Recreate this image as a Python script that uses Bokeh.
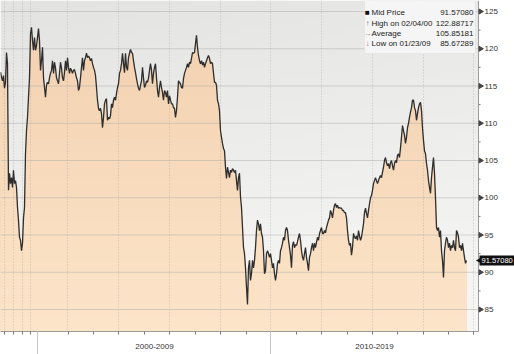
import numpy as np
from bokeh.plotting import figure
from bokeh.models import Range1d, Label, BoxAnnotation
from bokeh.core.properties import value
from bokeh.embed import file_html
from bokeh.resources import INLINE

# ---------------- data ----------------
price = [
    116.85, 116.2, 115.7, 116.4, 114.7, 115.5, 119.5, 118.0, 101.0, 103.3,
    101.9, 102.7, 101.4, 103.7, 101.9, 102.3, 101.4, 98.7, 97.0, 94.7,
    94.3, 92.9, 93.9, 97.3, 98.7, 105.9, 109.0, 110.8, 113.5, 116.1,
    122.0, 122.89, 121.1, 119.8, 121.5, 119.8, 120.4, 121.5, 122.7, 121.1,
    117.1, 118.4, 120.2, 116.1, 114.8, 113.5, 115.1, 115.5, 115.3, 116.1,
    116.7, 117.1, 118.4, 116.7, 118.2, 117.4, 116.1, 115.7, 115.3, 116.7,
    118.2, 117.4, 116.1, 115.7, 116.8, 118.4, 117.1, 118.8, 117.5, 116.7,
    117.4, 117.1, 116.7, 117.1, 117.2, 116.7, 116.1, 115.7, 114.4, 114.8,
    116.1, 117.5, 118.8, 117.1, 118.4, 118.8, 119.4, 118.8, 119.0, 118.8,
    118.4, 118.7, 118.0, 117.5, 117.1, 116.4, 114.8, 113.1, 112.0, 111.7,
    112.0, 111.3, 109.4, 110.8, 112.6, 113.1, 113.3, 110.4, 110.8, 110.6,
    111.0, 112.6, 112.1, 113.1, 113.5, 113.1, 114.0, 114.8, 115.3, 116.7,
    117.1, 118.0, 119.4, 118.0, 116.8, 119.4, 117.5, 117.1, 118.8, 119.4,
    119.9, 119.5, 119.4, 118.4, 117.5, 116.8, 116.0, 115.3, 114.7, 114.4,
    115.1, 115.7, 117.5, 116.1, 114.8, 115.1, 115.7, 115.5, 116.1, 117.1,
    118.0, 117.1, 115.3, 116.7, 117.5, 118.0, 116.1, 114.4, 113.5, 114.8,
    115.7, 114.8, 114.1, 113.1, 114.4, 114.1, 113.5, 114.4, 112.6, 113.7,
    113.1, 112.6, 112.6, 112.1, 112.0, 110.8, 111.7, 113.5, 115.7, 115.5,
    115.3, 114.8, 114.7, 116.0, 116.7, 117.1, 117.5, 118.0, 117.5, 118.2,
    118.0, 118.7, 119.5, 119.4, 119.5, 120.7, 121.8, 120.2, 119.1, 118.4,
    118.0, 118.4, 117.8, 118.2, 117.5, 118.0, 118.4, 118.8, 119.1, 118.7,
    118.0, 118.2, 118.0, 116.7, 115.5, 115.5, 115.1, 113.1, 112.6, 111.7,
    109.0, 108.1, 107.3, 106.6, 106.3, 104.1, 102.6, 104.1, 103.4, 102.7,
    103.7, 103.4, 103.9, 103.7, 103.4, 103.7, 102.3, 101.0, 102.7, 103.3,
    100.1, 98.7, 96.0, 93.3, 92.5, 90.6, 88.0, 85.67, 90.6, 91.6,
    88.9, 89.8, 91.6, 90.6, 91.6, 93.3, 95.6, 97.0, 96.5, 95.6,
    96.5, 95.2, 94.7, 92.9, 89.8, 90.2, 92.5, 92.9, 92.5, 92.0,
    92.5, 91.6, 90.6, 91.2, 89.8, 88.9, 89.8, 91.2, 91.6, 91.2,
    92.9, 93.3, 93.9, 94.7, 94.3, 95.6, 96.0, 95.6, 94.3, 93.3,
    92.3, 90.6, 93.6, 94.1, 93.3, 93.7, 93.6, 94.1, 94.7, 95.2,
    94.3, 92.9, 92.0, 91.6, 92.5, 93.3, 92.0, 91.2, 90.2, 92.0,
    92.5, 93.3, 93.9, 92.9, 93.9, 93.3, 94.0, 94.7, 94.3, 95.2,
    95.6, 96.0, 95.2, 95.2, 95.6, 95.3, 96.0, 96.5, 97.0, 97.3,
    98.3, 97.9, 97.3, 98.3, 99.0, 99.2, 98.7, 99.0, 98.6, 98.7,
    98.6, 98.6, 98.3, 98.3, 98.0, 98.0, 97.3, 95.6, 94.3, 93.6,
    93.9, 92.3, 93.3, 95.2, 94.7, 94.5, 94.9, 94.3, 95.6, 94.9,
    94.3, 94.7, 95.6, 96.5, 98.0, 98.6, 97.9, 97.3, 98.3, 99.2,
    100.0, 100.3, 101.0, 101.9, 102.3, 102.7, 102.3, 101.9, 102.3, 102.7,
    103.0, 102.7, 103.4, 104.1, 105.0, 105.4, 104.7, 104.3, 104.6, 103.9,
    104.7, 105.0, 104.3, 103.7, 104.6, 105.0, 104.7, 105.7, 105.9, 105.4,
    106.7, 108.1, 109.7, 109.0, 108.4, 107.3, 108.1, 109.4, 110.0, 110.8,
    111.5, 112.1, 113.1, 113.1, 112.1, 111.7, 110.4, 111.3, 112.1, 112.6,
    112.8, 111.7, 109.4, 107.7, 106.3, 105.9, 104.6, 103.7, 102.3, 101.4,
    100.6, 102.7, 104.1, 105.4, 103.3, 100.0, 96.0, 95.6, 96.0, 94.7,
    95.6, 92.9, 91.6, 89.3, 92.9, 93.9, 94.7, 94.3, 93.3, 93.9,
    92.9, 93.6, 93.3, 94.3, 93.3, 92.9, 95.6, 95.3, 94.7, 93.3,
    93.6, 92.9, 93.9, 92.9, 92.0, 91.2, 91.5708,
]
obs = list(range(len(price)))          # observation index (Bloomberg-style axis)

period_labels = ["2000-2009", "2010-2019"]
period_starts = [37, 270]               # observation index where each period starts
period_label_at = [154, 374]            # centre of the visible part of each period
year_ticks = [4, 13, 22, 30, 68, 93, 118, 144, 169, 195, 220, 246,
              296, 321, 347, 372, 397, 423, 448, 473]
grid_obs = [4, 13, 22, 30, 67, 118, 169, 220, 270, 321, 372, 423, 473]
y_ticks = [85, 90, 95, 100, 105, 110, 115, 120, 125]
y_minor = [87.5, 92.5, 97.5, 102.5, 107.5, 112.5, 117.5, 122.5]

legend_marks = ["\u25A0", "\u2191", "\u2192", "\u2193"]
legend_names = ["Mid Price", "High on 02/04/00", "Average", "Low on 01/23/09"]
legend_values = ["91.57080", "122.88717", "105.85181", "85.67289"]
last_price = 91.57080
last_label = "91.57080"

# ---------------- layout / style ----------------
W, H = 514, 354
PW, PH = 478, 331                      # plotting area (pixels)
Y_TOP, Y_BOT = 126.48, 82.05           # value range of the plotting area
S = (Y_TOP - Y_BOT) / PH               # value units per pixel
FONT = "Liberation Sans"
TXT = "#333333"


def ypx(py):
    return Y_TOP - py * S


p = figure(width=W, height=H,
           x_range=Range1d(0, W), y_range=Range1d(ypx(H), Y_TOP),
           output_backend="svg", toolbar_location=None,
           x_axis_type=None, y_axis_type=None, min_border=0)
p.outline_line_color = None
p.background_fill_color = "white"
p.border_fill_color = "white"
p.xgrid.visible = False
p.ygrid.visible = False

# background gradient of the plotting area
ny, nx = 60, 60
yy = np.linspace(0, 1, ny)[:, None]   # 0 = bottom, 1 = top
xx = np.linspace(0, 1, nx)[None, :]
g = 247 - 15 * yy - 5 * (1 - xx) * yy
img = np.empty((ny, nx), dtype=np.uint32)
view = img.view(dtype=np.uint8).reshape((ny, nx, 4))
view[:, :, 0] = g.astype(np.uint8)
view[:, :, 1] = g.astype(np.uint8)
view[:, :, 2] = (g - 1).astype(np.uint8)
view[:, :, 3] = 255
p.image_rgba(image=[img], x=0, y=Y_BOT, dw=PW, dh=Y_TOP - Y_BOT)

# gradient area fill under the price line
vals = np.array(price)
nb = 24
edges = np.linspace(Y_BOT, Y_TOP, nb + 1)
c_top = np.array([242, 208, 174])
c_bot = np.array([253, 229, 202])
for k in range(nb - 1, -1, -1):
    t = (k + 0.5) / nb
    c = (c_bot + (c_top - c_bot) * t).astype(int)
    col = "#%02x%02x%02x" % tuple(c)
    p.varea(x=obs, y1=Y_BOT, y2=np.minimum(vals, edges[k + 1]),
            fill_color=col, fill_alpha=1.0)

# grid lines
p.segment(x0=grid_obs, y0=[Y_BOT] * len(grid_obs), x1=grid_obs,
          y1=[Y_TOP] * len(grid_obs), line_color="#9a9a9a", line_alpha=0.5,
          line_dash="1 2", line_width=1)
p.segment(x0=[0] * len(y_ticks), y0=y_ticks, x1=[PW] * len(y_ticks),
          y1=y_ticks, line_color="#a8a8a8", line_alpha=0.45, line_width=1)

# price line
p.line(obs, vals, line_color="#2e2e2e", line_width=1.3)

# right value axis
p.segment(x0=[PW], y0=[Y_BOT], x1=[PW], y1=[Y_TOP], line_color="#9c9c9c", line_width=1)
p.scatter(x=[PW + 2] * len(y_ticks), y=y_ticks, marker="triangle", size=5,
          angle=-np.pi / 2, fill_color="#444444", line_color="#444444")
p.segment(x0=[PW] * len(y_minor), y0=y_minor, x1=[PW + 2] * len(y_minor),
          y1=y_minor, line_color="#777777")
p.text(x=[PW + 6] * len(y_ticks), y=y_ticks, text=[str(t) for t in y_ticks],
       text_align="left", text_baseline="middle", text_font=value(FONT),
       text_font_size="8px", text_color=TXT)

# bottom time axis
p.segment(x0=[0], y0=[Y_BOT], x1=[PW], y1=[Y_BOT], line_color="#9c9c9c", line_width=1)
p.segment(x0=year_ticks, y0=[Y_BOT] * len(year_ticks), x1=year_ticks,
          y1=[ypx(PH + 3)] * len(year_ticks), line_color="#777777")
p.segment(x0=period_starts, y0=[Y_BOT] * len(period_starts), x1=period_starts,
          y1=[ypx(H)] * len(period_starts), line_color="#c8c8c8")
p.text(x=period_label_at, y=[ypx(346)] * len(period_label_at), text=period_labels,
       text_align="center", text_baseline="middle", text_font=value(FONT),
       text_font_size="8px", text_color=TXT)

# legend box
p.add_layout(BoxAnnotation(left=364, right=475, top=Y_TOP, bottom=ypx(53),
                           fill_color="#f5f5f5", fill_alpha=1.0,
                           line_color="#d4d4d4", line_width=1))
row_y = [12, 23, 33, 43]
for i in range(len(legend_names)):
    yv = ypx(row_y[i])
    p.add_layout(Label(x=367, y=yv, text=legend_marks[i], text_align="center",
                       text_baseline="middle", text_font=FONT,
                       text_font_size="8px",
                       text_color="#111111" if i == 0 else "#8a8a8a"))
    p.add_layout(Label(x=371, y=yv, text=legend_names[i], text_align="left",
                       text_baseline="middle", text_font=FONT,
                       text_font_size="8px", text_color="#222222"))
    p.add_layout(Label(x=473, y=yv, text=legend_values[i], text_align="right",
                       text_baseline="middle", text_font=FONT,
                       text_font_size="8px", text_color="#222222"))

# last price tag on the axis
p.quad(left=[PW + 1], right=[W], top=[last_price + 5 * S],
       bottom=[last_price - 5 * S], fill_color="#111111", line_color=None)
p.scatter(x=[PW + 1.5], y=[last_price], marker="triangle", size=7,
          angle=np.pi / 2, fill_color="#111111", line_color=None)
p.text(x=[PW + 3], y=[last_price], text=[last_label], text_align="left",
       text_baseline="middle", text_font=value(FONT), text_font_size="7.5px",
       text_color="white")

open("out.html", "w").write(file_html(p, INLINE))
